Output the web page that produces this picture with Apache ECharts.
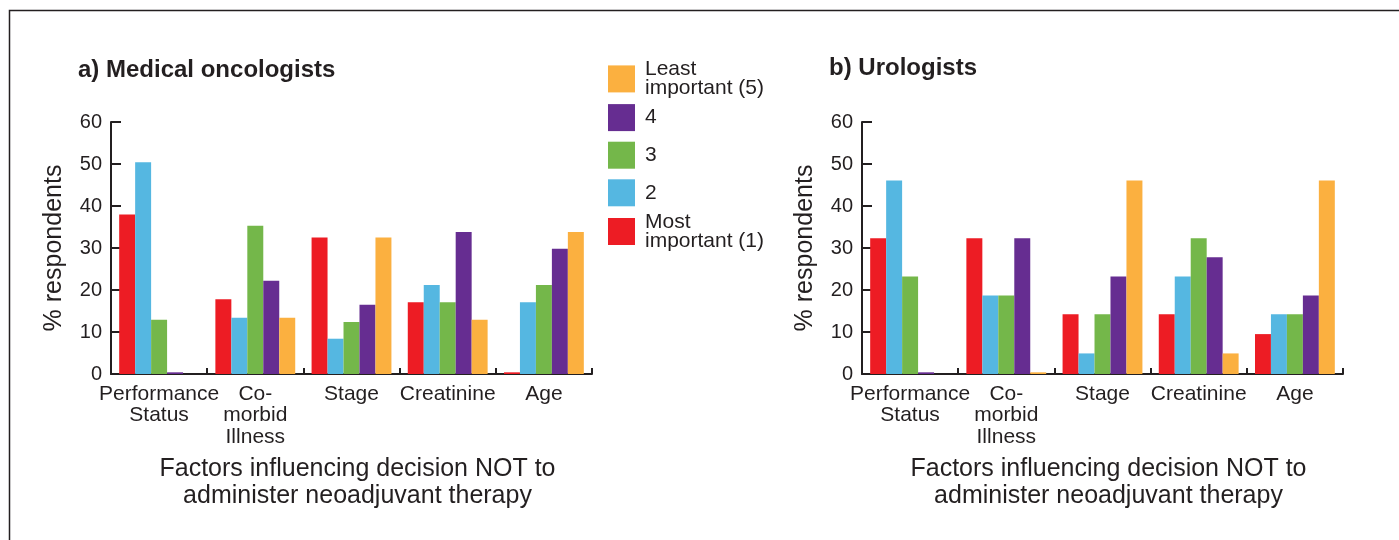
<!DOCTYPE html>
<html><head><meta charset="utf-8">
<script src="https://cdn.jsdelivr.net/npm/echarts@6/dist/echarts.min.js"></script>
<style>html,body{margin:0;padding:0;background:#fff;}#c{width:1399px;height:540px;}</style>
</head><body><div id="c"></div>
<script>
const categories = ['Performance\nStatus', 'Co-\nmorbid\nIllness', 'Stage', 'Creatinine', 'Age'];
const seriesNames = ['Most important (1)', '2', '3', '4', 'Least important (5)'];
const colors = ['#ed1c24', '#55b7e1', '#74b74a', '#662d91', '#fbb040'];
const yTicks = [0, 10, 20, 30, 40, 50, 60];
// Medical oncologists: rows = rank 1..5, columns = categories
const oncRank1 = [38.0, 17.8, 32.5, 17.1, 0.4];
const oncRank2 = [50.4, 13.4, 8.4, 21.2, 17.1];
const oncRank3 = [12.9, 35.3, 12.4, 17.1, 21.2];
const oncRank4 = [0.4, 22.2, 16.5, 33.8, 29.8];
const oncRank5 = [0, 13.4, 32.5, 12.9, 33.8];
// Urologists
const uroRank1 = [32.3, 32.3, 14.2, 14.2, 9.5];
const uroRank2 = [46.1, 18.7, 4.9, 23.2, 14.2];
const uroRank3 = [23.2, 18.7, 14.2, 32.3, 14.2];
const uroRank4 = [0.4, 32.3, 23.2, 27.8, 18.7];
const uroRank5 = [0, 0.4, 46.1, 4.9, 46.1];

const oncData = [oncRank1, oncRank2, oncRank3, oncRank4, oncRank5];
const uroData = [uroRank1, uroRank2, uroRank3, uroRank4, uroRank5];

const ink = '#231f20';
const FONT = 'Liberation Sans';

function xAxisCfg(gridIndex) {
  return {
    type: 'category', gridIndex, data: categories,
    axisLine: { lineStyle: { color: ink, width: 2 } },
    axisTick: { show: true, inside: true, length: 6, lineStyle: { color: ink, width: 2 } },
    axisLabel: { interval: 0, color: ink, fontFamily: FONT, fontSize: 21, lineHeight: 21.5, margin: 9 },
    name: 'Factors influencing decision NOT to\nadminister neoadjuvant therapy',
    nameLocation: 'middle', nameGap: 82,
    nameTextStyle: { color: ink, fontFamily: FONT, fontSize: 25, lineHeight: 27, padding: [0, 0, 0, 12] }
  };
}
function yAxisCfg(gridIndex) {
  return {
    type: 'value', gridIndex, min: yTicks[0], max: yTicks[yTicks.length - 1], interval: 10,
    axisLine: { show: true, lineStyle: { color: ink, width: 2 } },
    axisTick: { show: true, inside: true, length: 10, lineStyle: { color: ink, width: 2 } },
    splitLine: { show: false },
    axisLabel: { color: ink, fontFamily: FONT, fontSize: 20, margin: 9 },
    name: '% respondents', nameLocation: 'middle', nameGap: 44, nameRotate: 90,
    nameTextStyle: { color: ink, fontFamily: FONT, fontSize: 25 }
  };
}

const series = [];
[oncData, uroData].forEach((set, gi) => {
  set.forEach((vals, i) => {
    series.push({
      type: 'bar', name: seriesNames[i], xAxisIndex: gi, yAxisIndex: gi,
      data: vals, barGap: '0%', barCategoryGap: '17%',
      itemStyle: { color: colors[i] }, silent: true
    });
  });
});

const legendData = seriesNames.slice().reverse().map(n => {
  const twoLine = n.indexOf('important') >= 0;
  return twoLine ? { name: n } : { name: n, textStyle: { lineHeight: 37.6 } };
});

const chart = echarts.init(document.getElementById('c'), null, { renderer: 'canvas' });
chart.setOption({
  animation: false,
  color: colors,
  graphic: [{ type: 'rect', left: 7, top: 8, shape: { width: 1420, height: 560 },
    style: { fill: 'none', stroke: ink, lineWidth: 1.5 }, silent: true }],
  title: [
    { text: 'a) Medical oncologists', left: 78, top: 58, padding: 0,
      textStyle: { fontFamily: FONT, fontWeight: 'bold', fontSize: 24, color: ink } },
    { text: 'b) Urologists', left: 829, top: 56, padding: 0,
      textStyle: { fontFamily: FONT, fontWeight: 'bold', fontSize: 24, color: ink } }
  ],
  legend: {
    orient: 'vertical', left: 608, top: 59, padding: 0, itemGap: 0,
    itemWidth: 27, itemHeight: 27, icon: 'rect', selectedMode: false,
    data: legendData,
    formatter: n => n.replace(' important', '\nimportant'),
    textStyle: { fontFamily: FONT, fontSize: 21, lineHeight: 18.8, color: ink, padding: [0, 0, 0, 5] }
  },
  grid: [
    { left: 111, top: 122, width: 481, height: 252 },
    { left: 862, top: 122, width: 481, height: 252 }
  ],
  xAxis: [xAxisCfg(0), xAxisCfg(1)],
  yAxis: [yAxisCfg(0), yAxisCfg(1)],
  series
});
</script></body></html>
